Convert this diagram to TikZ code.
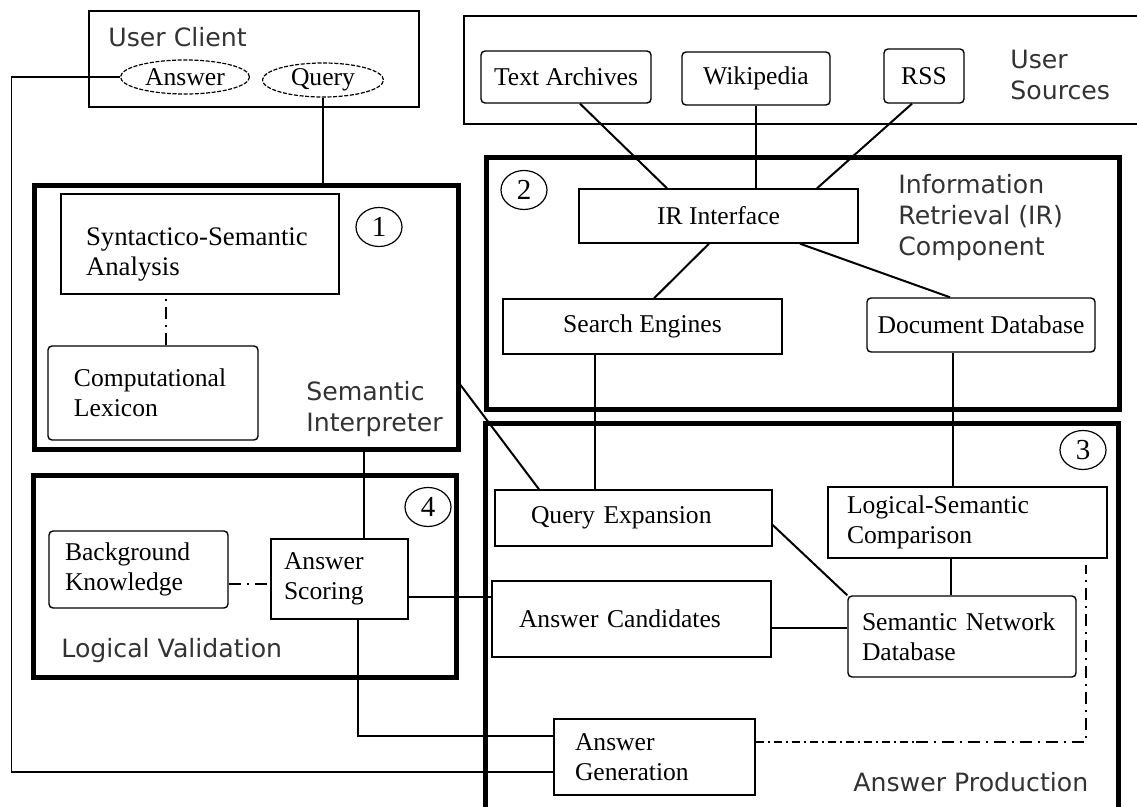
\documentclass[tikz,border=0pt]{standalone}
\usepackage{fontspec}
\setmainfont{Liberation Serif}
\newfontfamily\labelfont{DejaVu Sans}
\usetikzlibrary{positioning,calc,shapes}

\newcommand{\boxfont}{\fontsize{12.8}{15}\selectfont}
\newcommand{\partfont}{\labelfont\fontsize{12.6}{15.5}\selectfont}

\begin{document}
\begin{tikzpicture}[x=0.5pt, y=-0.5pt,
	comp/.style={draw, line width=0.7pt, inner ysep=0pt, font=\boxfont},
	part/.style={draw, line width=2.5pt, inner sep=0pt},
	partname/.style={font=\partfont, text=black!80, inner sep=0pt, align=left},
	num/.style={ellipse, draw, line width=0.6pt, minimum width=23pt, minimum height=19.5pt, inner sep=0pt, font=\fontsize{14.5}{14.5}\selectfont},
	io/.style={ellipse, draw, line width=0.6pt, dash pattern=on 2pt off 0.8pt, minimum height=17pt, inner sep=0pt, font=\boxfont},
	link/.style={line width=0.8pt},
	dashdot/.style={line width=0.8pt, dash pattern=on 6pt off 3pt on 1pt off 3pt}]

	\useasboundingbox (0,0) rectangle (1137,807);

	% client and sources
	\node[draw, line width=0.7pt, minimum width=165pt, minimum height=48pt] (uc) at (254,59) {};
	\node[partname, anchor=base west] (ucl) at (108,47) {User Client};
	\node[io, minimum width=64.5pt] (ans) at (185,77) {Answer};
	\node[io, minimum width=60.5pt] (qry) at (323,80) {Query};

	\node[draw, line width=0.7pt, minimum width=340.5pt, minimum height=54pt] (us) at (804.5,70) {};
	\node[comp, rounded corners=2pt, minimum width=85pt, minimum height=26pt] (ta) at (566,77) {Text Archives};
	\node[comp, rounded corners=2pt, minimum width=74pt, minimum height=26.5pt] (wp) at (756,78.5) {Wikipedia};
	\node[comp, rounded corners=2pt, minimum width=40pt, minimum height=27pt] (rss) at (924,76) {RSS};
	\node[partname, anchor=north west] (usl) at (1010,50) {User\\Sources};

	% (1) semantic interpreter
	\node[part, minimum width=212pt, minimum height=132pt] (si) at (246,318) {};
	\node[num] (n1) at (379,227) {1};
	\node[comp, text width=114pt, inner xsep=12.5pt, minimum height=50pt, align=left, font=\fontsize{13.4}{15}\selectfont] (sa) at (200,244) {\rule{0pt}{19pt}Syntactico-Semantic\\Analysis};
	\node[comp, rounded corners=2pt, text width=79pt, inner xsep=13pt, minimum height=47pt, align=left] (cl) at (153,393) {Computational\\Lexicon};
	\node[partname, anchor=north west] (sil) at (306,381) {Semantic\\Interpreter};

	% (2) IR component
	\node[part, minimum width=316.5pt, minimum height=126pt] (ir) at (802.5,284) {};
	\node[num] (n2) at (524,190) {2};
	\node[comp, minimum width=139.5pt, minimum height=27pt] (iri) at (718.5,216) {IR Interface};
	\node[comp, minimum width=139.5pt, minimum height=27.5pt] (se) at (642.5,326.5) {Search Engines};
	\node[comp, rounded corners=2pt, minimum width=114pt, minimum height=27pt, inner xsep=2pt] (db) at (981,325) {Document Database};
	\node[partname, anchor=north west] (irl) at (898,174) {Information\\Retrieval (IR)\\Component};

	% (3) answer production
	\node[part, minimum width=316.5pt, minimum height=193pt] (ap) at (801.5,617) {};
	\node[num] (n3) at (1083,450) {3};
	\node[comp, text width=102.5pt, inner xsep=18pt, minimum height=28pt, align=left] (qe) at (633.5,518) {Query Expansion};
	\node[comp, text width=120.5pt, inner xsep=9.5pt, minimum height=35.5pt, align=left] (ls) at (967.5,522.5) {Logical-Semantic\\Comparison};
	\node[comp, text width=112.5pt, inner xsep=13.5pt, minimum height=38pt, align=left] (ac) at (631.5,619) {Answer Candidates};
	\node[comp, rounded corners=2pt, text width=100pt, inner xsep=7pt, minimum height=40.5pt, align=left] (sn) at (962,636.5) {Semantic Network\\Database};
	\node[comp, text width=79.5pt, inner xsep=10.5pt, minimum height=38pt, align=left] (ag) at (654.5,757) {Answer\\Generation};
	\node[partname, anchor=base west] (apl) at (853,792) {Answer Production};

	% (4) logical validation
	\node[part, minimum width=211.5pt, minimum height=101pt] (lv) at (244.5,577) {};
	\node[num] (n4) at (428,507) {4};
	\node[comp, rounded corners=2pt, text width=73.5pt, inner xsep=8pt, minimum height=38.5pt, align=left] (bk) at (138.5,569.5) {Background\\Knowledge};
	\node[comp, text width=55.5pt, inner xsep=6.5pt, minimum height=40pt, align=left] (as) at (339.5,579) {Answer\\Scoring};
	\node[partname, anchor=base west] (lvl) at (61,658) {Logical Validation};

	% connections
	\draw[line width=1pt] (qry.south) -- (qry.south |- si.north);
	\draw[line width=1pt] ($(ta.south)+(14,0)$) -- ($(iri.north)+(-51.5,0)$);
	\draw[line width=1pt] (wp.south) -- (wp.south |- iri.north);
	\draw[line width=1pt] ($(rss.south)+(-12,0)$) -- ($(iri.north)+(98.5,0)$);
	\draw[line width=1pt] ($(iri.south)+(-9.5,0)$) -- ($(se.north)+(11.5,0)$);
	\draw[line width=1pt] ($(iri.south)+(81.5,0)$) -- ($(db.north)+(-31,0)$);
	\draw[link] ($(se.south)+(-47.5,0)$) coordinate (t) -- (t |- qe.north);
	\draw[link] ($(db.south)+(-28,0)$) coordinate (t) -- (t |- ls.north);
	\draw[link] ($(ls.south)+(-16.5,0)$) coordinate (t) -- (t |- sn.north);
	\draw[dashdot] ([xshift=6.5pt]cl.north) -- ([xshift=6.5pt]cl.north |- sa.south);

	\draw[line width=1pt] ($(si.east)+(0,67)$) -- ($(qe.north)+(-94.5,0)$);
	\draw[line width=1pt] ($(qe.east)+(0,7)$) -- (sn.north west);
	\draw[line width=1.4pt] ($(ac.east)+(0,9)$) coordinate (t) -- (t -| sn.west);

	\draw[link] ($(as.north)+(24.5,0)$) coordinate (t) -- (t |- si.south);
	\draw[dashdot] ($(bk.east)+(0,14.5)$) coordinate (t) -- (t -| as.west);
	\draw[link] ($(as.east)+(-2,18)$) coordinate (t) -- (t -| ac.west);
	\draw[line width=1.4pt] ($(as.south)+(18.5,0)$) |- ($(ag.west)+(0,-21)$);
	\draw[link] (ans.west) -- ++(-108.5,0) |- ($(ag.west)+(0,15)$);

	% feedback to the comparison
	\coordinate (lsin) at (1086,565);
	\draw[line width=1.4pt, dash pattern=on 4pt off 2pt on 1pt off 2pt] ($(ag.east)+(0,-15)$) coordinate (t) -- ($(t)+(160,0)$) coordinate (u);
	\draw[dashdot] (u) -| (lsin);

\end{tikzpicture}
\end{document}
